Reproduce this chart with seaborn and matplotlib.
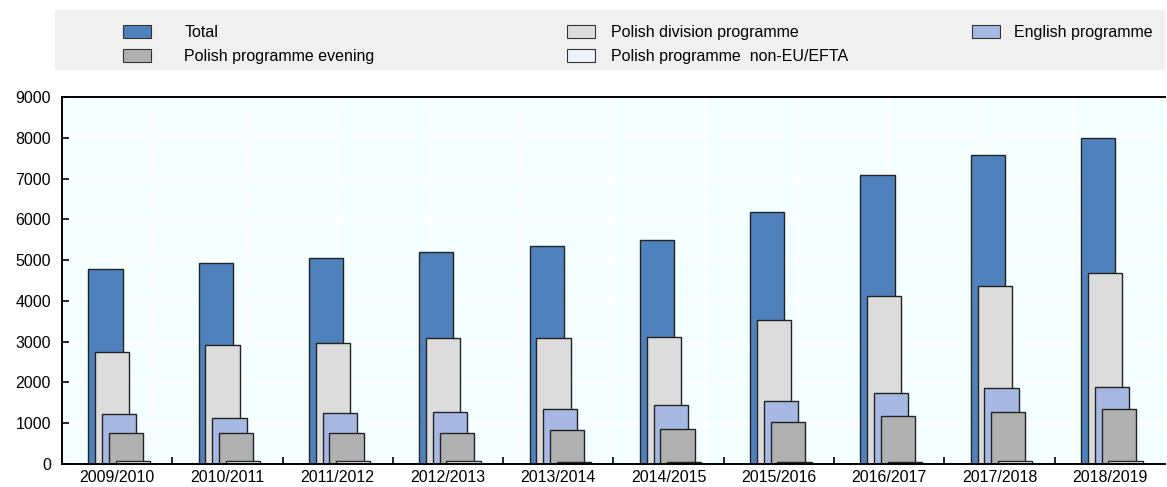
import numpy as np
import pandas as pd
import seaborn as sns
import matplotlib
matplotlib.use("Agg")
import matplotlib.pyplot as plt
from matplotlib.patches import Patch, Rectangle

years = ["2009/2010", "2010/2011", "2011/2012", "2012/2013", "2013/2014",
         "2014/2015", "2015/2016", "2016/2017", "2017/2018", "2018/2019"]
total = [4790, 4920, 5050, 5190, 5340, 5490, 6180, 7090, 7580, 8000]
polish_division = [2740, 2930, 2970, 3080, 3100, 3120, 3520, 4110, 4360, 4680]
english = [1220, 1140, 1240, 1285, 1360, 1450, 1540, 1735, 1860, 1890]
polish_evening = [755, 760, 760, 750, 825, 855, 1040, 1170, 1270, 1340]
polish_non_eu = [70, 70, 70, 70, 60, 60, 60, 60, 70, 70]

series_names = ["Total", "Polish division programme", "English programme",
                "Polish programme evening", "Polish programme  non-EU/EFTA"]
series_values = [total, polish_division, english, polish_evening, polish_non_eu]
colors = ["#4f81bd", "#dcdcdc", "#a7b9e3", "#b0b0b0", "#eef2fa"]

sns.set_style("white")
plt.rcParams['font.family'] = ['Liberation Sans', 'DejaVu Sans']
plt.rcParams['text.color'] = 'black'
plt.rcParams['xtick.color'] = 'black'
plt.rcParams['ytick.color'] = 'black'
fs = 11.5

fig = plt.figure(figsize=(11.67, 4.87), dpi=100)
ax = fig.add_axes([0.0531, 0.0472, 0.9452, 0.7536])
ax.set_facecolor("#f4ffff")

bar_w = 0.31
offsets = [-0.106, -0.044, 0.018, 0.080, 0.141]
idx = np.arange(len(years))

# light grid behind the bars
for y in range(1000, 9000, 1000):
    ax.axhline(y, color="white", lw=1.5, zorder=0)
for k in range(1, 12):
    ax.axvline(-0.5 + k * 10 / 12, color="white", lw=1.5, zorder=0)

for name, vals, col, off in zip(series_names, series_values, colors, offsets):
    df = pd.DataFrame({"x": idx + off, "v": vals})
    sns.barplot(data=df, x="x", y="v", native_scale=True, width=bar_w,
                color=col, edgecolor="#222222", linewidth=1.0,
                saturation=1, ax=ax, zorder=2)

ax.set_xlim(-0.5, 9.5)
ax.set_ylim(0, 9000)
ax.set_yticks(range(0, 9001, 1000))
ax.set_yticklabels([str(v) for v in range(0, 9001, 1000)], fontsize=fs)
ax.set_xticks(idx)
ax.set_xticklabels(years, fontsize=fs)
ax.set_xticks(np.arange(0.5, 9.5, 1), minor=True)
ax.tick_params(axis="x", which="major", length=0, pad=4)
ax.tick_params(axis="x", which="minor", direction="in", length=5, width=1.2, bottom=True)
ax.tick_params(axis="y", direction="in", length=5, width=1.2, left=True, pad=8)
ax.set_xlabel("")
ax.set_ylabel("")
for s in ["left", "bottom", "top"]:
    ax.spines[s].set_visible(True)
    ax.spines[s].set_color("black")
    ax.spines[s].set_linewidth(1.4)
ax.spines["right"].set_visible(False)

# legend
fig.patches.append(Rectangle((55 / 1167, 1 - 70 / 487), 1110 / 1167, 60 / 487,
                             transform=fig.transFigure, facecolor="#f0f0f0",
                             edgecolor="none", zorder=0))
handles = [Patch(facecolor=c, edgecolor="#333333", linewidth=0.8) for c in colors]
cols = [([0, 3], 123, 2.1), ([1, 4], 567, 1.0), ([2], 972, 0.9)]
for items, xpx, tpad in cols:
    leg = fig.legend([handles[i] for i in items], [series_names[i] for i in items],
                     loc="upper left", bbox_to_anchor=(xpx / 1167, 1 - 25 / 487),
                     frameon=False, fontsize=fs, handlelength=1.75, handleheight=0.85,
                     handletextpad=tpad, labelspacing=0.55, borderaxespad=0, borderpad=0)

fig.savefig("out.png", dpi=100)
